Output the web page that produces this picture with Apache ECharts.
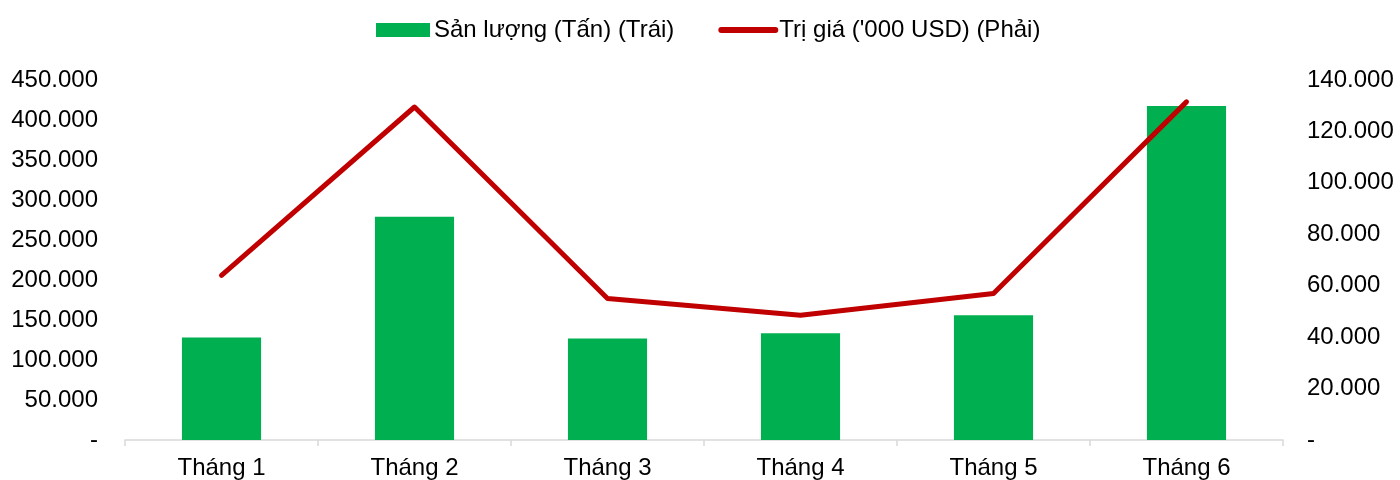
<!DOCTYPE html>
<html>
<head>
<meta charset="utf-8">
<script src="https://cdn.jsdelivr.net/npm/echarts@6/dist/echarts.min.js"></script>
<style>
  html, body { margin: 0; padding: 0; background: #fff; }
  #chart { width: 1400px; height: 480px; }
</style>
</head>
<body>
<div id="chart"></div>
<script>
const months = ['Tháng 1', 'Tháng 2', 'Tháng 3', 'Tháng 4', 'Tháng 5', 'Tháng 6'];
const volume = [128000, 279000, 127000, 133500, 156000, 417500];
const value = [64000, 129500, 55000, 48500, 57000, 131500];

const fmt = (v) => {
    if (v === 0) return '-';
    return String(Math.round(v)).replace(/\B(?=(\d{3})+(?!\d))/g, '.');
};

const chart = echarts.init(document.getElementById('chart'));

chart.setOption({
    backgroundColor: '#fff',
    textStyle: { fontFamily: 'Liberation Sans, Arial, sans-serif' },
    legend: {
        top: 13,
        left: 371,
        itemGap: 44,
        itemWidth: 54,
        itemHeight: 14,
        textStyle: { fontSize: 24, color: '#000', padding: [0, 0, 0, -1] },
        data: [
            { name: 'Sản lượng (Tấn) (Trái)', icon: 'rect' },
            {
                name: "Trị giá ('000 USD) (Phải)",
                itemStyle: { opacity: 0 },
                lineStyle: { width: 6, color: '#C00000', cap: 'round' }
            }
        ]
    },
    grid: { left: 125, right: 117, top: 80, bottom: 39, containLabel: false },
    xAxis: {
        type: 'category',
        data: months,
        axisLine: { lineStyle: { color: '#D9D9D9', width: 1.5 } },
        axisTick: { show: true, length: 6, lineStyle: { color: '#D9D9D9', width: 1.5 } },
        axisLabel: { fontSize: 24, color: '#000', margin: 16 }
    },
    yAxis: [
        {
            type: 'value',
            min: 0,
            max: 450000,
            interval: 50000,
            splitLine: { show: false },
            axisLine: { show: false },
            axisTick: { show: false },
            axisLabel: { fontSize: 24, color: '#000', margin: 27, formatter: fmt }
        },
        {
            type: 'value',
            min: 0,
            max: 140000,
            interval: 20000,
            splitLine: { show: false },
            axisLine: { show: false },
            axisTick: { show: false },
            axisLabel: { fontSize: 24, color: '#000', margin: 24, formatter: fmt }
        }
    ],
    series: [
        {
            name: 'Sản lượng (Tấn) (Trái)',
            type: 'bar',
            data: volume,
            barWidth: '41%',
            itemStyle: { color: '#00B050' }
        },
        {
            name: "Trị giá ('000 USD) (Phải)",
            type: 'line',
            yAxisIndex: 1,
            data: value,
            symbol: 'none',
            lineStyle: { color: '#C00000', width: 5, cap: 'round', join: 'round' },
            itemStyle: { color: '#C00000' }
        }
    ]
});
</script>
</body>
</html>
